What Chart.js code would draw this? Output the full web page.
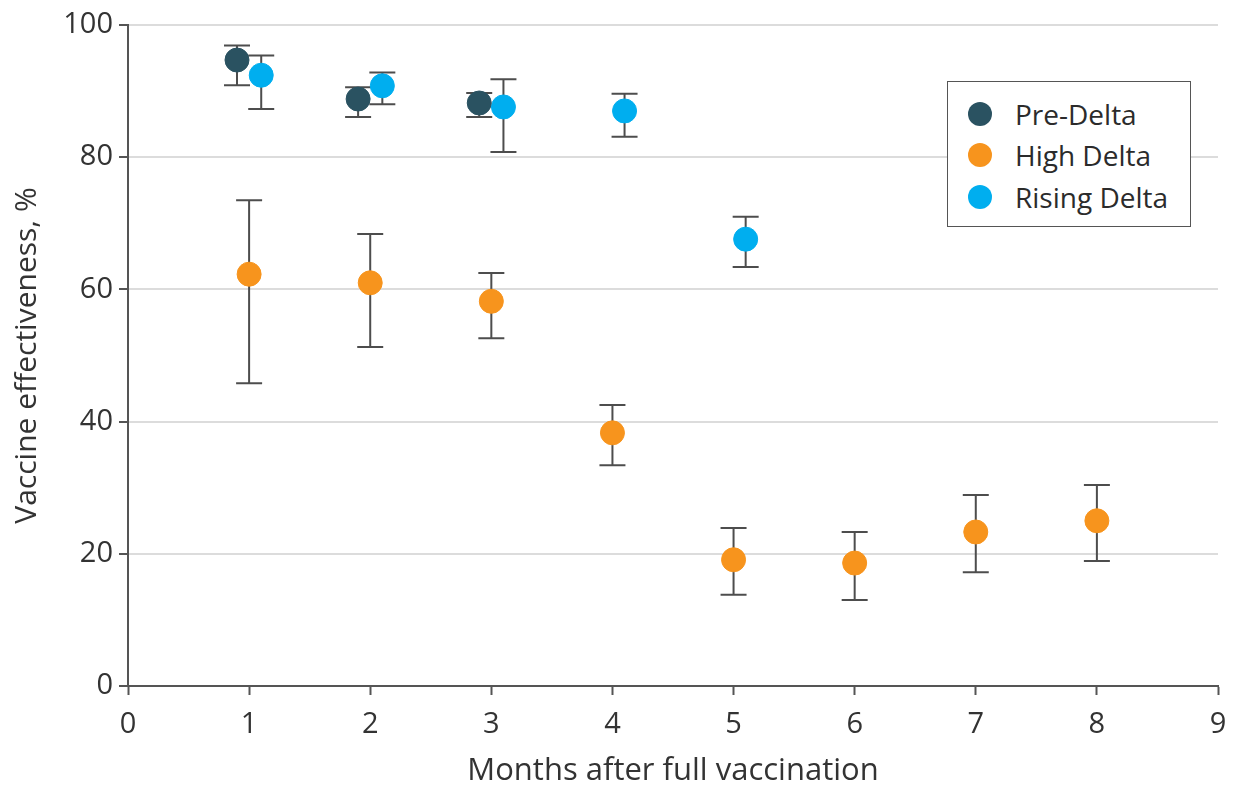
<!DOCTYPE html>
<html>
<head>
<meta charset="utf-8">
<script src="https://cdn.jsdelivr.net/npm/chart.js@4/dist/chart.umd.min.js"></script>
<style>
  html, body { margin: 0; padding: 0; background: #fff; }
  #wrap { position: relative; width: 1233px; height: 787px; }
  #legend {
    position: absolute; left: 947px; top: 81px; width: 244px; height: 146px;
    border: 1.5px solid #555; background: #fff; box-sizing: border-box;
    font-family: "Open Sans", sans-serif; font-size: 28px; color: #2b2b2b;
    padding-top: 11px;
  }
  .item { display: flex; align-items: center; height: 41.5px; }
  .dot { width: 24px; height: 24px; border-radius: 50%; margin-left: 20px; margin-right: 23px; }
</style>
</head>
<body>
<div id="wrap">
  <canvas id="chart" width="1233" height="787"></canvas>
  <div id="legend"></div>
</div>
<script>
// months after full vaccination, point estimates and 95% CI bounds
const preDeltaMonths = [0.9, 1.9, 2.9];
const preDeltaVE = [94.7, 88.8, 88.2];
const preDeltaLow = [90.9, 86.1, 86.1];
const preDeltaHigh = [96.9, 90.6, 89.7];

const highDeltaMonths = [1, 2, 3, 4, 5, 6, 7, 8];
const highDeltaVE = [62.3, 61.0, 58.2, 38.3, 19.1, 18.6, 23.3, 25.0];
const highDeltaLow = [45.8, 51.3, 52.6, 33.4, 13.8, 13.0, 17.2, 18.9];
const highDeltaHigh = [73.5, 68.4, 62.5, 42.5, 23.9, 23.3, 28.9, 30.4];

const risingDeltaMonths = [1.1, 2.1, 3.1, 4.1, 5.1];
const risingDeltaVE = [92.4, 90.8, 87.6, 87.0, 67.6];
const risingDeltaLow = [87.3, 88.0, 80.8, 83.1, 63.4];
const risingDeltaHigh = [95.4, 92.8, 91.8, 89.6, 71.0];

const xTicks = [0, 1, 2, 3, 4, 5, 6, 7, 8, 9];
const yTicks = [0, 20, 40, 60, 80, 100];

const FONT = "'Open Sans', sans-serif";

function points(xs, ys, lo, hi) {
  return xs.map((m, i) => ({ x: m, y: ys[i], yMin: lo[i], yMax: hi[i] }));
}

const series = [
  { label: "Pre-Delta", color: "#2a5261", data: points(preDeltaMonths, preDeltaVE, preDeltaLow, preDeltaHigh) },
  { label: "High Delta", color: "#f7941d", data: points(highDeltaMonths, highDeltaVE, highDeltaLow, highDeltaHigh) },
  { label: "Rising Delta", color: "#00aeef", data: points(risingDeltaMonths, risingDeltaVE, risingDeltaLow, risingDeltaHigh) }
];

// error bars drawn under the points
const errorBars = {
  id: "errorBars",
  beforeDatasetsDraw(chart) {
    const { ctx, scales: { x, y } } = chart;
    ctx.save();
    ctx.strokeStyle = "#4d4d4d";
    ctx.lineWidth = 2;
    chart.data.datasets.forEach(ds => {
      ds.data.forEach(p => {
        const px = x.getPixelForValue(p.x);
        const top = y.getPixelForValue(p.yMax);
        const bot = y.getPixelForValue(p.yMin);
        ctx.beginPath();
        ctx.moveTo(px, top); ctx.lineTo(px, bot);
        ctx.moveTo(px - 13, top); ctx.lineTo(px + 13, top);
        ctx.moveTo(px - 13, bot); ctx.lineTo(px + 13, bot);
        ctx.stroke();
      });
    });
    ctx.restore();
  }
};

const ctx = document.getElementById("chart").getContext("2d");
new Chart(ctx, {
  type: "scatter",
  data: {
    datasets: series.map(s => ({
      label: s.label,
      data: s.data,
      backgroundColor: s.color,
      borderColor: s.color,
      pointRadius: 12,
      pointHoverRadius: 12
    }))
  },
  options: {
    responsive: false,
    animation: false,
    layout: { padding: { left: 0, right: 15, top: 25, bottom: 0 } },
    plugins: { legend: { display: false }, tooltip: { enabled: false } },
    scales: {
      x: {
        type: "linear",
        min: 0, max: 9,
        afterBuildTicks: axis => { axis.ticks = xTicks.map(v => ({ value: v })); },
        afterFit: axis => { axis.height = 101; axis.paddingLeft = 0; axis.paddingRight = 0; },
        grid: { drawOnChartArea: false, tickLength: 9, tickColor: "#555", tickWidth: 2 },
        border: { color: "#555", width: 2 },
        ticks: { font: { family: FONT, size: 29 }, color: "#333", padding: 12 },
        title: { display: true, text: "Months after full vaccination", font: { family: FONT, size: 31 }, color: "#333", padding: { top: 4, bottom: -3 } }
      },
      y: {
        min: 0, max: 100,
        afterBuildTicks: axis => { axis.ticks = yTicks.map(v => ({ value: v })); },
        afterFit: axis => { axis.width = 128; },
        grid: { color: "#dcdcdc", lineWidth: 2, tickLength: 9, tickColor: "#555", tickWidth: 2 },
        border: { color: "#555", width: 2 },
        ticks: { font: { family: FONT, size: 29 }, color: "#333", padding: 6 },
        title: { display: true, text: "Vaccine effectiveness, %", font: { family: FONT, size: 30 }, color: "#333", padding: { top: 9, bottom: 0 } }
      }
    }
  },
  plugins: [errorBars]
});

const legend = document.getElementById("legend");
series.forEach(s => {
  const row = document.createElement("div");
  row.className = "item";
  row.innerHTML = '<span class="dot" style="background:' + s.color + '"></span><span>' + s.label + '</span>';
  legend.appendChild(row);
});
</script>
</body>
</html>
